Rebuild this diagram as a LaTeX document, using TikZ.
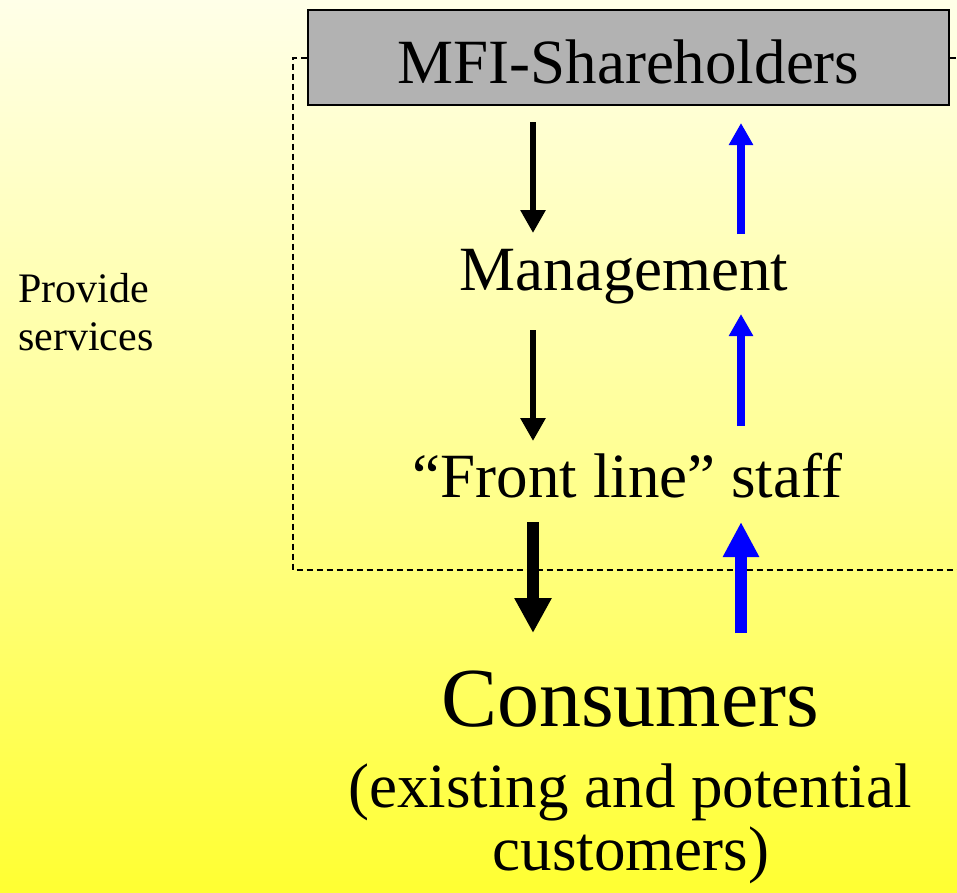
\documentclass[tikz,border=0pt]{standalone}
\usepackage{fontspec}
\setmainfont{Liberation Serif}
\usetikzlibrary{arrows.meta}
\definecolor{bgtop}{RGB}{255,255,232}
\definecolor{bgmid}{RGB}{255,255,150}
\definecolor{bgbot}{RGB}{255,255,50}
\definecolor{boxgray}{RGB}{178,178,178}
\definecolor{arrblue}{RGB}{0,0,255}
\begin{document}
\begin{tikzpicture}[x=1pt,y=-1pt,
  bigtext/.style={font=\fontsize{63}{70}\selectfont, inner sep=0pt, anchor=base},
  hugetext/.style={font=\fontsize{84}{90}\selectfont, inner sep=0pt, anchor=base},
  smalltext/.style={font=\fontsize{42}{48}\selectfont, inner sep=0pt, anchor=base west},
  sharebox/.style={draw=black, line width=2pt, fill=boxgray, minimum width=641pt, minimum height=95pt,
    inner sep=0pt, text height=52pt, text depth=0pt, font=\fontsize{63}{70}\selectfont},
  dashline/.style={line width=2pt, dash pattern=on 6pt off 4pt},
  downthin/.style={line width=6pt, -{Triangle[width=24pt,length=23pt]}},
  upthin/.style={arrblue, line width=8pt, -{Triangle[width=23pt,length=22pt]}},
  downthick/.style={line width=12pt, -{Triangle[width=35pt,length=35pt]}},
  upthick/.style={arrblue, line width=12pt, -{Triangle[width=34pt,length=35pt]}}
]
\shade[top color=bgtop, bottom color=bgbot, middle color=bgmid] (0,0) rectangle (957,892);
\useasboundingbox (0,0) rectangle (957,892);

% dashed frame
\coordinate (dl) at (293,57.5);
\coordinate (dbl) at (293,570);
\coordinate (dbr) at (957,570);
\coordinate (dr) at (957,57.5);

\node[sharebox] (mfi) at (628.5,57.5) {MFI-Shareholders};
\draw[dashline] (mfi.west) -- (dl) -- (dbl) -- (dbr);
\draw[dashline] (mfi.east) -- (dr);

\node[bigtext] (mgmt) at (624,290) {Management};
\node[bigtext] (staff) at (627.5,497) {“Front line” staff};
\node[hugetext] (cons) at (630,726) {Consumers};
\node[bigtext] (cons2) at (630,807) {(existing and potential};
\node[bigtext] (cons3) at (631,870) {customers)};
\node[smalltext] (prov1) at (18,302) {Provide};
\node[smalltext] (prov2) at (18,350) {services};

% arrow endpoints
\coordinate (a1s) at (533,122); \coordinate (a1e) at (533,233);
\coordinate (b1s) at (741,234); \coordinate (b1e) at (741,123);
\coordinate (a2s) at (533,330); \coordinate (a2e) at (533,441);
\coordinate (b2s) at (741,426); \coordinate (b2e) at (741,314);
\coordinate (a3s) at (533,522); \coordinate (a3e) at (533,633);
\coordinate (b3s) at (741,633); \coordinate (b3e) at (741,522);

\draw[downthin] (a1s) -- (a1e);
\draw[upthin] (b1s) -- (b1e);
\draw[downthin] (a2s) -- (a2e);
\draw[upthin] (b2s) -- (b2e);
\draw[downthick] (a3s) -- (a3e);
\draw[upthick] (b3s) -- (b3e);
\end{tikzpicture}
\end{document}
